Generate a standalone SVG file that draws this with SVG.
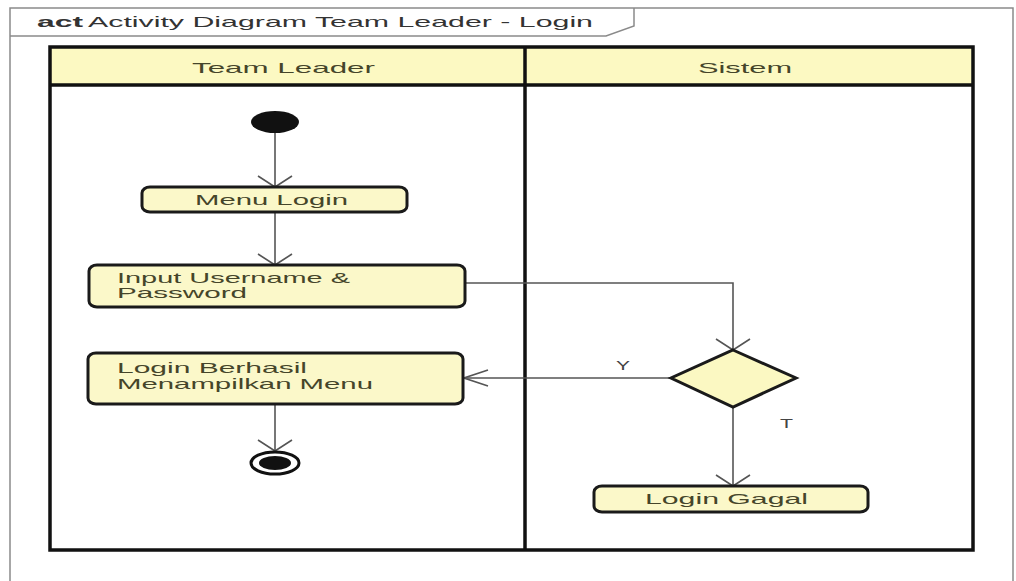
<svg xmlns="http://www.w3.org/2000/svg" width="1016" height="581" viewBox="0 0 1016 581">
  <style>
    .frame { fill: none; stroke: #8a8a8a; stroke-width: 1.5; }
    .lane { fill: none; stroke: #111; stroke-width: 3.5; }
    .lanehead { fill: #fcf9c2; stroke: none; }
    .action { fill: #fbf8c9; stroke: #1a1a1a; stroke-width: 3; }
    .decision { fill: #fbf8c2; stroke: #1a1a1a; stroke-width: 3; }
    .flow { fill: none; stroke: #555; stroke-width: 1.6; }
    .head { fill: none; stroke: #555; stroke-width: 1.6; }
    .txt { font-family: "Liberation Sans", Arial, sans-serif; font-size: 15px; fill: #45452a; }
    .title { font-family: "Liberation Sans", Arial, sans-serif; font-size: 15px; fill: #333; }
    .guard { font-family: "Liberation Sans", Arial, sans-serif; font-size: 13px; fill: #444; }
  </style>
  <defs>
    <!-- open arrowheads; wider across on vertical flows, longer on horizontal flows -->
    <marker id="openV" viewBox="-12 -18 14 36" refX="0" refY="0" markerWidth="14" markerHeight="36" markerUnits="userSpaceOnUse" orient="auto">
      <path class="head" d="M-11,-17 L0,0 L-11,17"/>
    </marker>
    <marker id="openH" viewBox="-26 -9 28 18" refX="0" refY="0" markerWidth="28" markerHeight="18" markerUnits="userSpaceOnUse" orient="auto">
      <path class="head" d="M-24,-8 L0,0 L-24,8"/>
    </marker>
  </defs>

  <rect x="0" y="0" width="1016" height="581" fill="#ffffff"/>

  <!-- diagram frame with name tab -->
  <g id="frame">
    <path class="frame" d="M10,590 L10,8 L1013,8 L1013,590"/>
    <path class="frame" d="M10,36 L606,36 L634,26 L634,8"/>
    <text class="title" x="37" y="27" font-weight="bold" textLength="46" lengthAdjust="spacingAndGlyphs">act</text>
    <text class="title" x="88" y="27" textLength="505" lengthAdjust="spacingAndGlyphs">Activity Diagram Team Leader - Login</text>
  </g>

  <!-- swimlanes -->
  <g id="lanes">
    <rect class="lanehead" x="50" y="47" width="923" height="38"/>
    <rect class="lane" x="50" y="47" width="923" height="503"/>
    <line class="lane" x1="50" y1="85" x2="973" y2="85"/>
    <line class="lane" x1="525" y1="47" x2="525" y2="550"/>
    <text class="txt" x="192" y="73" textLength="183" lengthAdjust="spacingAndGlyphs">Team Leader</text>
    <text class="txt" x="698" y="73" textLength="94" lengthAdjust="spacingAndGlyphs">Sistem</text>
  </g>

  <!-- connectors -->
  <g id="connectors">
    <line class="flow" x1="275" y1="133" x2="275" y2="187" marker-end="url(#openV)"/>
    <line class="flow" x1="275" y1="212" x2="275" y2="265" marker-end="url(#openV)"/>
    <polyline class="flow" points="465,283 733,283 733,350" marker-end="url(#openV)"/>
    <line class="flow" x1="671" y1="378" x2="464" y2="378" marker-end="url(#openH)"/>
    <line class="flow" x1="733" y1="407" x2="733" y2="486" marker-end="url(#openV)"/>
    <line class="flow" x1="275" y1="404" x2="275" y2="451" marker-end="url(#openV)"/>
    <text class="guard" x="616" y="370" textLength="14" lengthAdjust="spacingAndGlyphs">Y</text>
    <text class="guard" x="780" y="428" textLength="13" lengthAdjust="spacingAndGlyphs">T</text>
  </g>

  <g id="start">
    <ellipse cx="275" cy="122" rx="24" ry="11" fill="#111"/>
  </g>

  <g id="menu-login">
    <rect class="action" x="142" y="187" width="265" height="25" rx="8" ry="6"/>
    <text class="txt" x="195" y="205" textLength="153" lengthAdjust="spacingAndGlyphs">Menu Login</text>
  </g>

  <g id="input-credentials">
    <rect class="action" x="89" y="265" width="376" height="42" rx="8" ry="6"/>
    <text class="txt" x="117" y="283" textLength="233" lengthAdjust="spacingAndGlyphs">Input Username &amp;</text>
    <text class="txt" x="117" y="298" textLength="130" lengthAdjust="spacingAndGlyphs">Password</text>
  </g>

  <g id="login-success">
    <rect class="action" x="88" y="353" width="375" height="51" rx="8" ry="6"/>
    <text class="txt" x="117" y="373" textLength="190" lengthAdjust="spacingAndGlyphs">Login Berhasil</text>
    <text class="txt" x="117" y="389" textLength="256" lengthAdjust="spacingAndGlyphs">Menampilkan Menu</text>
  </g>

  <g id="end">
    <ellipse cx="275" cy="463" rx="24" ry="11" fill="#fff" stroke="#111" stroke-width="3"/>
    <ellipse cx="275" cy="463" rx="16" ry="7" fill="#111"/>
  </g>

  <g id="decision">
    <polygon class="decision" points="733,350 796,378 733,407 671,378"/>
  </g>

  <g id="login-failed">
    <rect class="action" x="594" y="486" width="274" height="26" rx="8" ry="6"/>
    <text class="txt" x="645" y="504" textLength="163" lengthAdjust="spacingAndGlyphs">Login Gagal</text>
  </g>
</svg>
